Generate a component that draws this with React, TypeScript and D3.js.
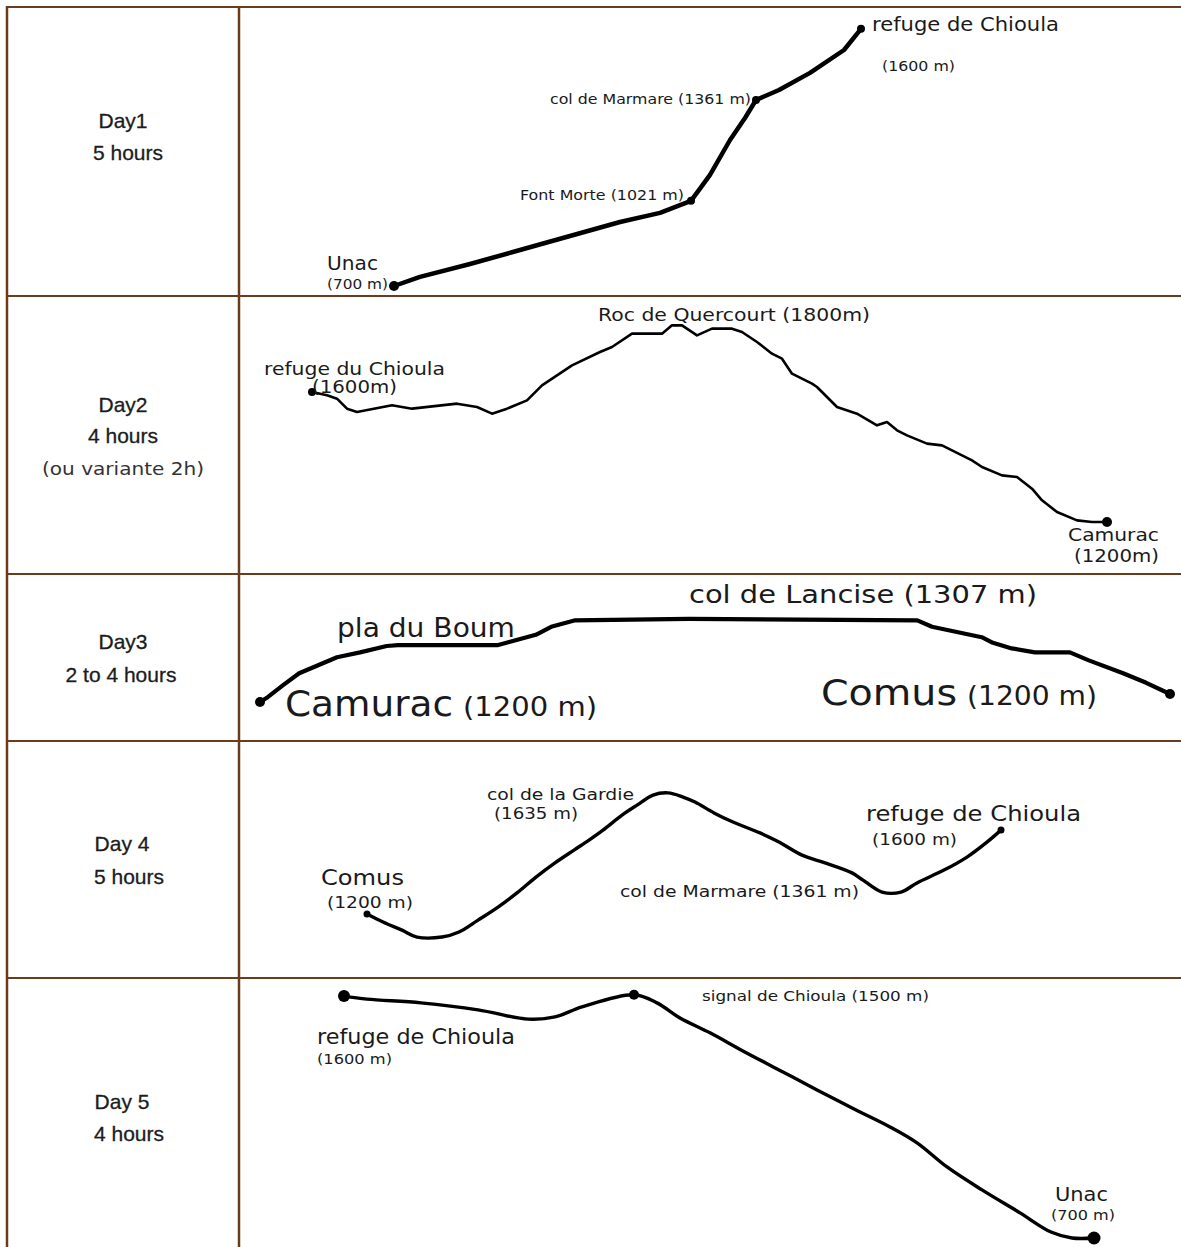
import React, { useEffect, useRef } from 'react';
import * as d3 from 'd3';

// left column
const dayNames = ['Day1', 'Day2', 'Day3', 'Day 4', 'Day 5'];
const dayDurations = ['5 hours', '4 hours', '2 to 4 hours', '5 hours', '4 hours'];
const day2Note = '(ou variante 2h)';

// profiles: [distance km, altitude m]
const day1Profile = [
  [0, 700], [0.52, 732], [1.52, 777], [2.52, 826], [3.52, 875], [4.52, 924],
  [5.32, 956], [5.94, 998], [6.32, 1089], [6.72, 1211], [7.02, 1288], [7.24, 1351],
  [7.7, 1386], [8.32, 1446], [9.0, 1526], [9.34, 1600],
];
const day2Profile = [
  [0, 1590], [0.3, 1580], [0.5, 1570], [0.7, 1540], [0.9, 1530], [1.6, 1550],
  [2.0, 1540], [2.9, 1555], [3.3, 1545], [3.6, 1525], [3.9, 1540], [4.3, 1565],
  [4.6, 1610], [5.2, 1670], [5.76, 1710], [6.0, 1725], [6.4, 1765], [7.0, 1765],
  [7.2, 1790], [7.4, 1790], [7.7, 1760], [8.0, 1780], [8.4, 1780], [8.6, 1770],
  [8.9, 1740], [9.2, 1705], [9.4, 1690], [9.6, 1645], [10.0, 1615], [10.1, 1605],
  [10.5, 1545], [10.9, 1525], [11.3, 1490], [11.5, 1500], [11.7, 1475], [11.9, 1460],
  [12.3, 1435], [12.6, 1430], [13.0, 1400], [13.2, 1385], [13.4, 1365], [13.8, 1340],
  [14.1, 1335], [14.4, 1300], [14.6, 1265], [14.9, 1230], [15.3, 1205], [15.6, 1200],
  [15.9, 1200],
];
const day3Profile = [
  [0, 1200], [0.11, 1206], [0.33, 1221], [0.56, 1236], [0.83, 1246], [1.1, 1256],
  [1.43, 1262], [1.81, 1270], [1.97, 1271], [3.39, 1271], [3.56, 1275], [3.94, 1284],
  [4.16, 1294], [4.49, 1302], [6.13, 1304], [9.39, 1302], [9.6, 1294], [10.04, 1286],
  [10.31, 1281], [10.47, 1274], [10.74, 1267], [11.07, 1262], [11.57, 1262], [11.84, 1252],
  [12.33, 1236], [12.66, 1224], [13, 1210],
];
const day4Profile = [
  [0, 1200], [0.32, 1171], [0.7, 1142], [1.0, 1117], [1.5, 1117], [1.84, 1135],
  [2.22, 1178], [2.62, 1225], [3.0, 1276], [3.38, 1333], [3.76, 1384], [4.14, 1430],
  [4.44, 1466], [4.72, 1502], [5.1, 1556], [5.4, 1592], [5.72, 1628], [6.02, 1636],
  [6.32, 1621], [6.56, 1603], [6.94, 1564], [7.32, 1531], [7.86, 1492], [8.24, 1459],
  [8.7, 1412], [9.16, 1384], [9.7, 1348], [9.92, 1322], [10.3, 1279], [10.68, 1279],
  [11.0, 1312], [11.54, 1358], [12.0, 1405], [12.38, 1456], [12.68, 1502],
];
const day5Profile = [
  [0, 1595], [0.46, 1584], [1.54, 1570], [2.68, 1544], [3.68, 1510], [4.22, 1518],
  [4.76, 1555], [5.8, 1600], [6.26, 1570], [6.72, 1514], [7.32, 1459], [7.94, 1396],
  [8.7, 1322], [9.46, 1248], [10.24, 1174], [10.92, 1111], [11.46, 1052], [12.06, 963],
  [12.76, 878], [13.52, 793], [14.14, 722], [14.56, 700], [15.0, 700],
];

// place names
const day1Stops = ['refuge de Chioula', '(1600 m)', 'col de Marmare (1361 m)', 'Font Morte (1021 m)', 'Unac', '(700 m)'];
const day2Stops = ['Roc de Quercourt (1800m)', 'refuge du Chioula', '(1600m)', 'Camurac', '(1200m)'];
const day3Stops = ['pla du Boum', 'col de Lancise (1307 m)', 'Camurac', '(1200 m)', 'Comus', '(1200 m)'];
const day4Stops = ['col de la Gardie', '(1635 m)', 'Comus', '(1200 m)', 'refuge de Chioula', '(1600 m)', 'col de Marmare (1361 m)'];
const day5Stops = ['signal de Chioula (1500 m)', 'refuge de Chioula', '(1600 m)', 'Unac', '(700 m)'];

const W = 1181;
const H = 1247;
const border = '#6b3c1b';
const rowLines = [7, 296, 574, 741, 978];
const colLines = [7, 239];
const labelFont = '"DejaVu Sans", Verdana, sans-serif';

// layout of each panel: pixel ranges, metres per pixel, stroke, dots, labels
const panels = [
  {
    profile: day1Profile, xRange: [394, 861], yBase: 286, altBase: 700, mPerPx: 3.5, stroke: 4.5,
    curve: d3.curveLinear, dots: [[0, 5], [7, 4], [11, 4], [15, 4]],
    labels: [
      [day1Stops[0], 872, 31, 19.5, 187], [day1Stops[1], 882, 71, 14, 73],
      [day1Stops[2], 550, 104, 14.5, 201], [day1Stops[3], 520, 200, 14.5, 164],
      [day1Stops[4], 327, 270, 19.5, 51], [day1Stops[5], 327, 289, 14, 61],
    ],
  },
  {
    profile: day2Profile, xRange: [312, 1107], yBase: 522, altBase: 1200, mPerPx: 3, stroke: 2.6,
    curve: d3.curveLinear, dots: [[0, 4], [48, 5]],
    labels: [
      [day2Stops[0], 598, 321, 17.5, 272], [day2Stops[1], 264, 375, 17.5, 181],
      [day2Stops[2], 312, 393, 17.5, 85], [day2Stops[3], 1068, 541, 17.5, 91],
      [day2Stops[4], 1074, 562, 17.5, 85],
    ],
  },
  {
    profile: day3Profile, xRange: [260, 1170], yBase: 702, altBase: 1200, mPerPx: 1.25, stroke: 4.2,
    curve: d3.curveLinear, dots: [[0, 5], [26, 5]],
    labels: [
      [day3Stops[0], 337, 637, 26, 178], [day3Stops[1], 689, 603, 25, 348],
      [day3Stops[2], 285, 716, 35, 168], [day3Stops[3], 463, 716, 26, 134],
      [day3Stops[4], 821, 705, 35, 136], [day3Stops[5], 967, 705, 26, 130],
    ],
  },
  {
    profile: day4Profile, xRange: [367, 1001], yBase: 914, altBase: 1200, mPerPx: 3.6, stroke: 3.4,
    curve: d3.curveCatmullRom, dots: [[0, 3.5], [34, 3.5]],
    labels: [
      [day4Stops[0], 487, 800, 16, 147], [day4Stops[1], 494, 819, 16, 84],
      [day4Stops[2], 321, 885, 22, 83], [day4Stops[3], 327, 908, 16, 86],
      [day4Stops[4], 866, 821, 22, 215], [day4Stops[5], 872, 845, 16, 85],
      [day4Stops[6], 620, 897, 16, 239],
    ],
  },
  {
    profile: day5Profile, xRange: [344, 1094], yBase: 1238, altBase: 700, mPerPx: 3.7, stroke: 3.4,
    curve: d3.curveCatmullRom, dots: [[0, 6], [7, 5], [22, 6.5]],
    labels: [
      [day5Stops[0], 702, 1001, 14, 227], [day5Stops[1], 317, 1044, 21, 198],
      [day5Stops[2], 317, 1064, 14, 75], [day5Stops[3], 1055, 1201, 20, 53],
      [day5Stops[4], 1051, 1220, 14, 64],
    ],
  },
];

// left column text placement
const leftText = [
  { name: [123, 128], dur: [128, 160] },
  { name: [123, 412], dur: [123, 443], note: [123, 475] },
  { name: [123, 649], dur: [121, 682] },
  { name: [122, 851], dur: [129, 884] },
  { name: [122, 1109], dur: [129, 1141] },
];

function App() {
  const svgRef = useRef(null);

  useEffect(() => {
    document.body.style.margin = '0';
    const svg = d3.select(svgRef.current);
    svg.selectAll('*').remove();

    svg.append('rect').attr('width', W).attr('height', H).attr('fill', '#fff');

    // table grid
    const grid = svg.append('g').attr('stroke', border);
    rowLines.forEach(y => {
      grid.append('line').attr('x1', 6).attr('x2', W).attr('y1', y).attr('y2', y).attr('stroke-width', 2);
    });
    colLines.forEach(x => {
      grid.append('line').attr('x1', x).attr('x2', x).attr('y1', 6).attr('y2', H).attr('stroke-width', 2.5);
    });

    // left column
    const left = svg.append('g')
      .attr('font-family', '"Liberation Sans", Arial, sans-serif')
      .attr('font-size', 21)
      .attr('fill', '#1c1c1c')
      .attr('stroke', '#1c1c1c')
      .attr('stroke-width', 0.3)
      .attr('text-anchor', 'middle');
    leftText.forEach((p, i) => {
      left.append('text').attr('x', p.name[0]).attr('y', p.name[1]).text(dayNames[i]);
      left.append('text').attr('x', p.dur[0]).attr('y', p.dur[1]).text(dayDurations[i]);
      if (p.note) {
        left.append('text').attr('x', p.note[0]).attr('y', p.note[1])
          .attr('font-family', labelFont).attr('font-size', 17).attr('fill', '#333')
          .attr('stroke', 'none')
          .attr('textLength', 162).attr('lengthAdjust', 'spacingAndGlyphs')
          .text(day2Note);
      }
    });

    // profiles
    panels.forEach(p => {
      const maxKm = d3.max(p.profile, d => d[0]);
      const x = d3.scaleLinear().domain([0, maxKm]).range(p.xRange);
      const y = d3.scaleLinear().domain([p.altBase, p.altBase + 100]).range([p.yBase, p.yBase - 100 / p.mPerPx]);
      const line = d3.line()
        .x(d => x(d[0]))
        .y(d => y(d[1]))
        .curve(p.curve);
      const g = svg.append('g');
      g.append('path')
        .datum(p.profile)
        .attr('fill', 'none')
        .attr('stroke', '#000')
        .attr('stroke-width', p.stroke)
        .attr('stroke-linejoin', 'round')
        .attr('stroke-linecap', 'round')
        .attr('d', line);
      g.selectAll('circle')
        .data(p.dots)
        .join('circle')
        .attr('cx', d => x(p.profile[d[0]][0]))
        .attr('cy', d => y(p.profile[d[0]][1]))
        .attr('r', d => d[1])
        .attr('fill', '#000');
      g.selectAll('text')
        .data(p.labels)
        .join('text')
        .attr('x', d => d[1])
        .attr('y', d => d[2])
        .attr('font-family', labelFont)
        .attr('font-size', d => d[3])
        .attr('textLength', d => d[4])
        .attr('lengthAdjust', 'spacingAndGlyphs')
        .attr('fill', '#1a1a1a')
        .text(d => d[0]);
    });
  }, []);

  return (
    <svg ref={svgRef} width={W} height={H} style={{ position: 'absolute', left: 0, top: 0, display: 'block' }}></svg>
  );
}

export default App;
